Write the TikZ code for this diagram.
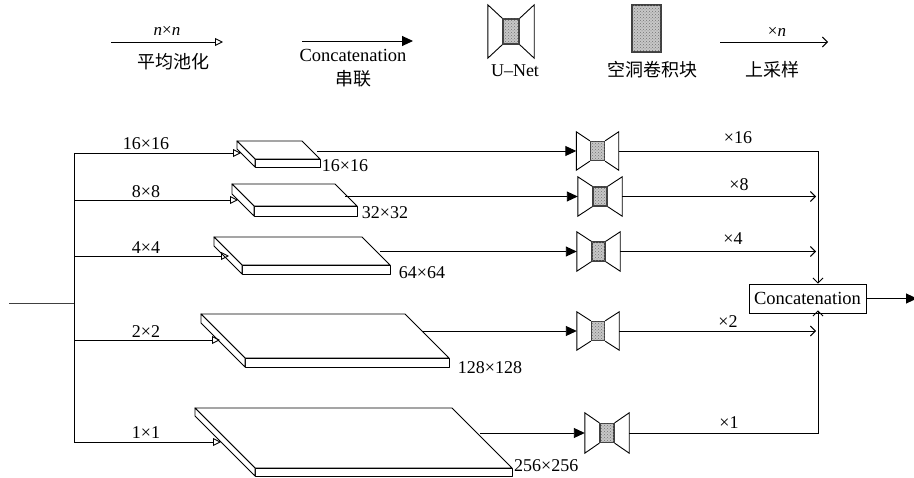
\documentclass[tikz,border=0pt]{standalone}
\usepackage{fontspec}
\setmainfont{Liberation Serif}
\newfontfamily\cjk{Noto Sans CJK SC}
\usetikzlibrary{arrows.meta,patterns,calc}

\newcommand\myunet[5]{% name, cx, cy, outer opts, core opts
  \node[unetbox,#4] (#1) at (#2,#3) {};
  \node[core,#5] (#1c) at (#2,#3) {};
  \draw[ln,line join=miter] (#1c.north west) -- (#1.north west) -- (#1.south west) -- (#1c.south west);
  \draw[ln,line join=miter] (#1c.north east) -- (#1.north east) -- (#1.south east) -- (#1c.south east);
}
\newcommand\myslab[6]{% x y w d t
  \draw[slabface] (#2,#3) -- ++(#4,0) -- ++(#5,#5) -- ++(-#4,0) -- cycle;
  \draw[slabface] ({#2+#5},{#3+#5}) rectangle ++(#4,#6);
  \draw[slabface] (#2,#3) -- ++(0,#6) -- ++(#5,#5) -- ++(0,-#6) -- cycle;
  \coordinate (#1) at (#2,#3);
}

\begin{document}
\begin{tikzpicture}[x=1pt,y=-1pt,
  every node/.style={font=\fontsize{18}{20}\selectfont, inner sep=0pt},
  ln/.style={line width=0.9pt, black},
  pool/.style={ln, -{Triangle[open,length=8pt,width=8pt]}},
  cat/.style={ln, -{Triangle[length=11pt,width=10pt]}},
  up/.style={ln, -{Straight Barb[length=5pt,width=10pt]}},
  slabface/.style={draw, fill=white, line width=0.9pt, line join=round},
  unetbox/.style={minimum width=42pt, minimum height=38pt, draw=none},
  core/.style={draw=black!75, line width=1.3pt, fill=black!22,
    postaction={pattern=crosshatch dots, pattern color=black!55},
    minimum width=14pt, minimum height=19pt},
  catbox/.style={draw, line width=0.9pt, minimum width=117pt, minimum height=29pt,
    font=\fontsize{18.5}{20}\selectfont},
  small/.style={font=\fontsize{17}{19}\selectfont},
]
\useasboundingbox (0,0) rectangle (914,478);

% ---------------- legend ----------------
\coordinate (p1) at (111,42);
\coordinate (p2) at (223,42);
\draw[pool] (p1) -- (p2);
\node[small] (plab) at (167,31) {\textit{n}×\textit{n}};
\node (ptxt) at (173,62) {\cjk 平均池化};

\coordinate (q1) at (302,41);
\coordinate (q2) at (413,41);
\draw[cat] (q1) -- (q2);
\node[font=\fontsize{18.5}{20}\selectfont] (qlab) at (353,55) {Concatenation};
\node (qtxt) at (353,79) {\cjk 串联};

\myunet{lu}{511}{31.5}{minimum width=46pt, minimum height=53pt}{minimum width=16pt, minimum height=25pt}
\node (lutxt) at (515,71) {U–Net};

\node[core, minimum width=29pt, minimum height=47pt] (blk) at (646.5,28.5) {};
\node (blktxt) at (652,70) {\cjk 空洞卷积块};

\coordinate (r1) at (720,42);
\coordinate (r2) at (828,42);
\draw[up] (r1) -- (r2);
\node[small] (rlab) at (777,32) {×\textit{n}};
\node (rtxt) at (772,70) {\cjk 上采样};

% ---------------- slabs ----------------
\myslab{s1}{237}{141}{65}{18}{8}
\myslab{s2}{232}{184}{103}{22}{10}
\myslab{s3}{214}{237}{148}{28}{9}
\myslab{s4}{201}{314}{204}{44}{9}
\myslab{s5}{195}{408}{257}{60}{8}

\node (s1lab) at (345,166) {16×16};
\node (s2lab) at (385,213) {32×32};
\node (s3lab) at (422,273) {64×64};
\node (s4lab) at (490,368) {128×128};
\node[anchor=west] (s5lab) at (514,466) {256×256};

% ---------------- trunk and pooling ----------------
\coordinate (in) at (9,303);
\coordinate (tj) at (74,303);
\coordinate (t1) at (74,153);
\coordinate (t2) at (74,200);
\coordinate (t3) at (74,256);
\coordinate (t4) at (74,340);
\coordinate (t5) at (74,442);
\coordinate (s1in) at (241,153);
\coordinate (s2in) at (238,200);
\coordinate (s3in) at (229,256);
\coordinate (s4in) at (220,340);
\coordinate (s5in) at (221,442);

\draw[ln, black!75] (in) -- (tj);
\draw[ln] (t1) -- (t5);
\draw[pool] (t1) -- (s1in);
\draw[pool] (t2) -- (s2in);
\draw[pool] (t3) -- (s3in);
\draw[pool] (t4) -- (s4in);
\draw[pool] (t5) -- (s5in);

\node (b1lab) at (146,144) {16×16};
\node (b2lab) at (146,192) {8×8};
\node (b3lab) at (146,248) {4×4};
\node (b4lab) at (146,332) {2×2};
\node (b5lab) at (146,433) {1×1};

% ---------------- U-Nets ----------------
\myunet{u1}{597.5}{151}{}{}
\myunet{u2}{600}{196.5}{minimum width=44pt, minimum height=39pt}{}
\myunet{u3}{598.5}{251.5}{minimum width=43pt, minimum height=39pt}{minimum width=13pt}
\myunet{u4}{598}{331}{}{minimum width=13pt}
\myunet{u5}{607}{433}{minimum width=44pt, minimum height=40pt}{}

\coordinate (s1out) at (317,151);
\coordinate (s2out) at (345,196.5);
\coordinate (s3out) at (380,251.5);
\coordinate (s4out) at (422,331);
\coordinate (s5out) at (480,433);
\draw[cat] (s1out) -- (u1.west);
\draw[cat] (s2out) -- (u2.west);
\draw[cat] (s3out) -- (u3.west);
\draw[cat] (s4out) -- (u4.west);
\draw[cat] (s5out) -- (u5.west);

% ---------------- concatenation ----------------
\node[catbox] (cat) at (807.5,298.5) {Concatenation};
\coordinate (vx) at (816,0);
\coordinate (c16) at (818,151);
\coordinate (c1) at (818,433);
\coordinate (out) at (917,298.5);

\draw[up] (u1.east) -- (c16) -- (c16 |- cat.north);
\draw[up] (u2.east) -- (u2.east -| vx);
\draw[up] (u3.east) -- (u3.east -| vx);
\draw[up] (u4.east) -- (u4.east -| vx);
\draw[up] (u5.east) -- (c1) -- ([yshift=3pt]c1 |- cat.south);
\draw[cat] (cat.east) -- (out);

\node (x16) at (738,138) {×16};
\node (x8) at (739,185) {×8};
\node (x4) at (733,239) {×4};
\node (x2) at (728,322) {×2};
\node (x1) at (729,423) {×1};
\end{tikzpicture}
\end{document}
